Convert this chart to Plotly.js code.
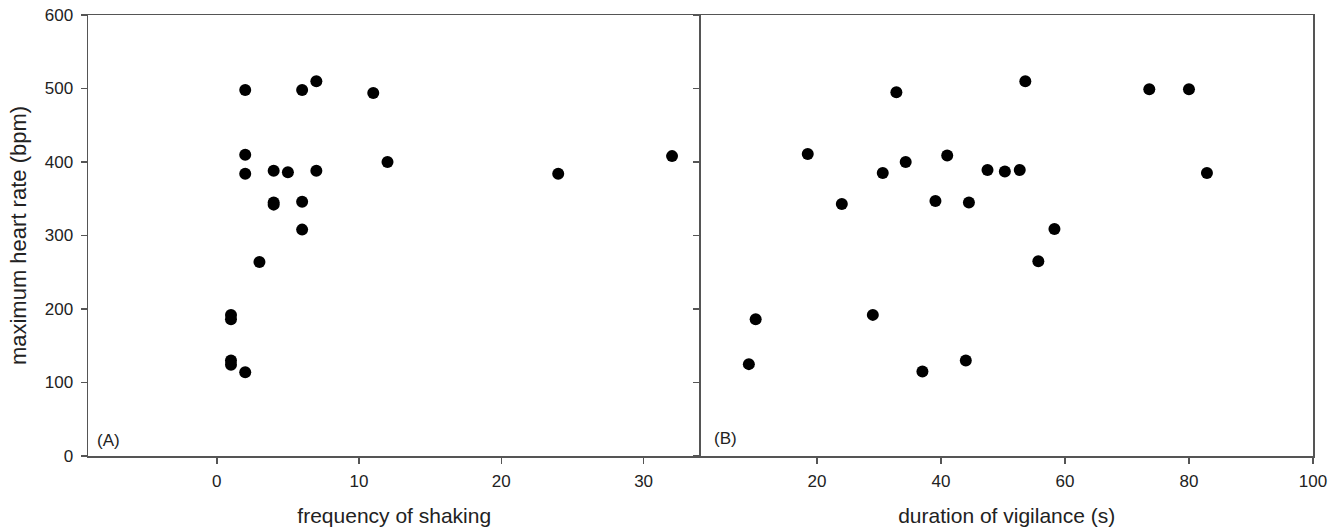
<!DOCTYPE html>
<html>
<head>
<meta charset="utf-8">
<script src="https://cdn.plot.ly/plotly-3.0.1.min.js"></script>
<style>html,body{margin:0;padding:0;background:#fff;}#chart{width:1341px;height:530px;}</style>
</head>
<body>
<div id="chart"></div>
<script>
// Panel A: frequency of shaking vs maximum heart rate
const shakeFreq = [2, 6, 7, 11, 2, 2, 4, 5, 7, 12, 4, 4, 6, 6, 3, 1, 1, 1, 1, 2, 24, 32];
const shakeHR   = [498, 498, 510, 494, 410, 384, 388, 386, 388, 400, 345, 342, 346, 308, 264, 192, 186, 130, 124, 114, 384, 408];

// Panel B: duration of vigilance vs maximum heart rate
const vigDur = [32.8, 18.5, 34.3, 41.0, 30.6, 47.5, 50.3, 52.7, 24.0, 39.1, 44.5, 10.1, 9.0, 29.0, 37.0, 44.0, 53.6, 73.6, 80.0, 82.9, 58.3, 55.7];
const vigHR  = [495, 411, 400, 409, 385, 389, 387, 389, 343, 347, 345, 186, 125, 192, 115, 130, 510, 499, 499, 385, 309, 265];

const yTicks = [0, 100, 200, 300, 400, 500, 600];
const xTicksA = [0, 10, 20, 30];
const xTicksB = [20, 40, 60, 80, 100];

const FONT = 'Arial, "Liberation Sans", sans-serif';
const LINE = '#555555';
const marker = {color: '#000000', size: 12, line: {width: 0}};

const traces = [
  {x: shakeFreq, y: shakeHR, type: 'scatter', mode: 'markers', marker: marker, xaxis: 'x', yaxis: 'y', hoverinfo: 'x+y'},
  {x: vigDur, y: vigHR, type: 'scatter', mode: 'markers', marker: marker, xaxis: 'x2', yaxis: 'y2', hoverinfo: 'x+y'}
];

const axisBase = {
  showline: true, linecolor: LINE, linewidth: 1.5,
  ticks: 'outside', ticklen: 6, tickwidth: 1.5, tickcolor: LINE,
  showgrid: false, zeroline: false,
  tickfont: {family: FONT, size: 17, color: '#222'}
};

const layout = {
  width: 1341, height: 530,
  margin: {l: 88, r: 28, t: 15, b: 74},
  paper_bgcolor: '#fff', plot_bgcolor: '#fff',
  showlegend: false,
  font: {family: FONT, color: '#222'},
  xaxis: Object.assign({}, axisBase, {
    domain: [0, 0.5], range: [-9.05, 34], tickvals: xTicksA, anchor: 'y', mirror: true,
    ticklabelstandoff: 3,
    title: {text: 'frequency of shaking', font: {family: FONT, size: 21, color: '#222'}, standoff: 18}
  }),
  yaxis: Object.assign({}, axisBase, {
    domain: [0, 1], range: [0, 600], tickvals: yTicks, anchor: 'x',
    ticklabelstandoff: 4,
    title: {text: 'maximum heart rate (bpm)', font: {family: FONT, size: 22, color: '#222'}, standoff: 12}
  }),
  xaxis2: Object.assign({}, axisBase, {
    domain: [0.5, 1], range: [1.2, 100.01], tickvals: xTicksB, anchor: 'y2', mirror: true,
    ticklabelstandoff: 3,
    title: {text: 'duration of vigilance (s)', font: {family: FONT, size: 21, color: '#222'}, standoff: 18}
  }),
  yaxis2: Object.assign({}, axisBase, {
    domain: [0, 1], range: [0, 600], tickvals: yTicks, anchor: 'x2', showticklabels: false, mirror: true
  }),
  annotations: [
    {text: '(A)', xref: 'x domain', yref: 'y domain', x: 0.012, y: 0.036, xanchor: 'left', yanchor: 'middle', showarrow: false, font: {family: FONT, size: 17, color: '#222'}},
    {text: '(B)', xref: 'x2 domain', yref: 'y2 domain', x: 0.018, y: 0.04, xanchor: 'left', yanchor: 'middle', showarrow: false, font: {family: FONT, size: 17, color: '#222'}}
  ]
};

Plotly.newPlot('chart', traces, layout, {displayModeBar: false, staticPlot: true});
</script>
</body>
</html>
